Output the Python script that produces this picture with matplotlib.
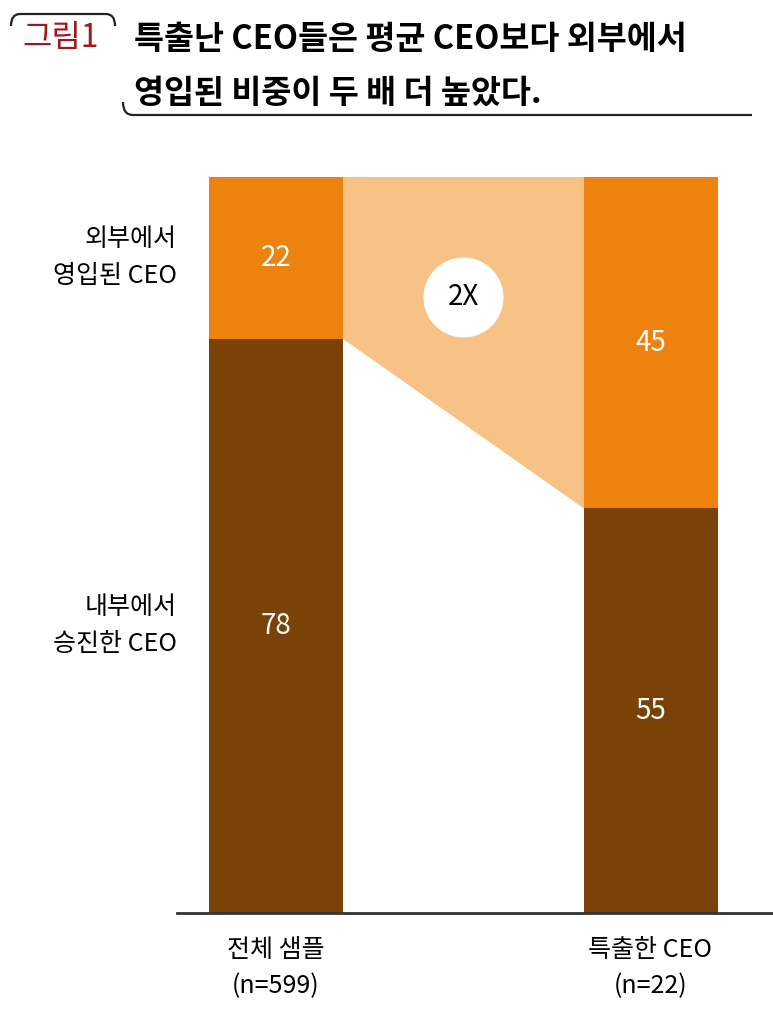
import matplotlib
matplotlib.use("Agg")
import matplotlib.pyplot as plt
from matplotlib.patches import Polygon
from matplotlib.path import Path
from matplotlib.patches import PathPatch

plt.rcParams['font.family'] = ['Noto Sans CJK KR', 'DejaVu Sans']

# ---- data ----
categories = ["전체 샘플\n(n=599)", "특출한 CEO\n(n=22)"]
internal = [78, 55]     # 내부에서 승진한 CEO
external = [22, 45]     # 외부에서 영입된 CEO
series_labels = ["내부에서\n승진한 CEO", "외부에서\n영입된 CEO"]
ratio_label = "2X"
title_tag = "그림1"
title_text = "특출난 CEO들은 평균 CEO보다 외부에서\n영입된 비중이 두 배 더 높았다."

ORANGE = "#EE820E"
BROWN = "#7A4207"
LIGHT = "#F7C285"
TAGRED = "#A0171C"

W, H = 773, 1018
fig = plt.figure(figsize=(W / 100, H / 100), dpi=100)

def fx(px):
    return px / W

def fy(py):
    return 1 - py / H

# axes area in pixels
ax_l, ax_r, ax_t, ax_b = 177, 773, 177, 913
ax = fig.add_axes([fx(ax_l), fy(ax_b), (ax_r - ax_l) / W, (ax_b - ax_t) / H])
unit = 374.5
xmin = -(276 - ax_l) / unit
xmax = 1 + (ax_r - 650.5) / unit
ax.set_xlim(xmin, xmax)
ax.set_ylim(0, 100)
bw = 134 / unit

xs = list(range(len(categories)))
ax.bar(xs, internal, width=bw, color=BROWN, zorder=2, linewidth=0)
ax.bar(xs, external, width=bw, bottom=internal, color=ORANGE, zorder=2,
       linewidth=0)

# connecting light band (extends under bars to avoid seams)
total0 = internal[0] + external[0]
total1 = internal[1] + external[1]
poly = Polygon([(xs[0], total0), (xs[0], internal[0]),
                (xs[0] + bw / 2, internal[0]),
                (xs[1] - bw / 2, internal[1]), (xs[1], internal[1]),
                (xs[1], total1)],
               closed=True, facecolor=LIGHT, edgecolor='none', zorder=1)
ax.add_patch(poly)

# circle 2X
cx = (xs[0] + xs[1]) / 2
cy = 83.7
ax.scatter([cx], [cy], s=3318, color='white', zorder=3, linewidths=0)
ax.text(cx, cy, ratio_label, ha='center', va='center', fontsize=20,
        color='black', zorder=4)

# value labels
for i in xs:
    ax.text(i, internal[i] / 2, f"{internal[i]}", ha='center', va='center',
            color='white', fontsize=20, zorder=4)
    ax.text(i, internal[i] + external[i] / 2, f"{external[i]}", ha='center',
            va='center', color='white', fontsize=20, zorder=4)

# series labels on left
ax.text(xmin, internal[0] + external[0] / 2, series_labels[1],
        ha='right', va='center', fontsize=18, linespacing=1.55)
ax.text(xmin, internal[0] / 2, series_labels[0],
        ha='right', va='center', fontsize=18, linespacing=1.55)

for s in ['top', 'right', 'left']:
    ax.spines[s].set_visible(False)
ax.spines['bottom'].set_color('#333333')
ax.spines['bottom'].set_linewidth(2)
ax.set_yticks([])
ax.set_xticks(xs)
ax.set_xticklabels(categories, fontsize=18, linespacing=1.5)
ax.tick_params(axis='x', length=0, pad=17)

# title tag
fig.text(fx(22), fy(38), title_tag, ha='left', va='center', fontsize=23,
         color=TAGRED, fontweight='medium')
# bracket above tag
verts = [(fx(11), fy(26)), (fx(11), fy(14)), (fx(20), fy(14)),
         (fx(106), fy(14)), (fx(115), fy(14)), (fx(115), fy(26))]
codes = [Path.MOVETO, Path.CURVE3, Path.CURVE3, Path.LINETO, Path.CURVE3, Path.CURVE3]
fig.patches.append(PathPatch(Path(verts, codes), transform=fig.transFigure,
                             fill=False, edgecolor='#222222', linewidth=1.6))

# title
fig.text(fx(134), fy(66), title_text, ha='left', va='center', fontsize=23.5,
         fontweight='bold', color='black', linespacing=1.8)

# underline
verts2 = [(fx(123), fy(102)), (fx(123), fy(115)), (fx(133), fy(115)),
          (fx(752), fy(115))]
codes2 = [Path.MOVETO, Path.CURVE3, Path.CURVE3, Path.LINETO]
fig.patches.append(PathPatch(Path(verts2, codes2), transform=fig.transFigure,
                             fill=False, edgecolor='#222222', linewidth=1.6))

fig.savefig("out.png", dpi=100)
